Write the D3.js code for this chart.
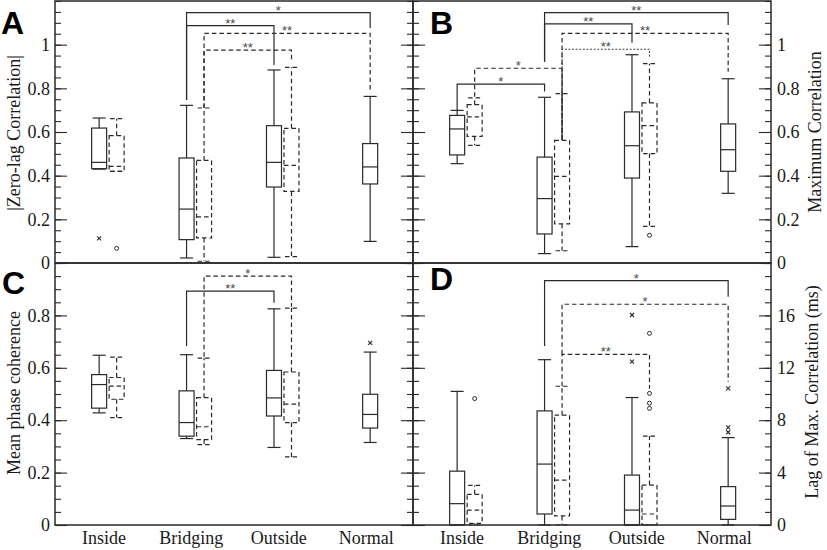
<!DOCTYPE html>
<html><head><meta charset="utf-8">
<script src="https://cdn.jsdelivr.net/npm/d3@7"></script>
<style>
html,body{margin:0;padding:0;background:#fff;}
svg{display:block;}
text{font-family:"Liberation Serif","Times New Roman",serif;}
</style></head>
<body>
<svg id="chart" width="827" height="550"></svg>
<script>
// ---------------- DATA ----------------
const categories = ["Inside", "Bridging", "Outside", "Normal"];
// box stats per category: [lowWhisker, q1, median, q3, highWhisker]; null = no box
const zeroLagSolid  = [[0.43,0.432,0.461,0.618,0.664],[0.023,0.107,0.247,0.481,0.722],[0.026,0.348,0.461,0.629,0.884],[0.099,0.362,0.44,0.547,0.763]];
const zeroLagDashed = [[0.42,0.42,0.443,0.583,0.661],[0.008,0.115,0.211,0.47,0.71],[0.029,0.328,0.447,0.617,0.896],null];
const maxCorrSolid  = [[0.455,0.495,0.614,0.676,0.699],[0.043,0.133,0.295,0.485,0.759],[0.075,0.389,0.537,0.692,0.954],[0.319,0.42,0.519,0.637,0.844]];
const maxCorrDashed = [[0.539,0.58,0.669,0.725,0.756],[0.056,0.179,0.397,0.562,0.776],[0.168,0.501,0.629,0.733,0.913],null];
const coherenceSolid  = [[0.428,0.446,0.536,0.574,0.648],[0.33,0.339,0.391,0.512,0.65],[0.296,0.416,0.485,0.59,0.825],[0.315,0.37,0.422,0.499,0.66]];
const coherenceDashed = [[0.41,0.48,0.53,0.563,0.641],[0.307,0.326,0.375,0.486,0.637],[0.26,0.391,0.461,0.584,0.828],null];
const lagSolid  = [[0,0,1.63,4.11,10.2],[0,0.84,4.65,8.71,12.62],[0,0,1.14,3.81,9.73],[0,0.43,1.45,2.93,6.67]];
const lagDashed = [[0,0.13,1.14,2.34,3.02],[0,0.69,3.43,8.38,10.59],[0,0,0.84,3.05,6.79],null];

// outliers: [categoryIndex, seriesIndex (0 solid, 1 dashed), value]
const zeroLagOutliers   = [[0,0,0.113],[0,1,0.067]];
const maxCorrOutliers   = [[2,1,0.127]];
const coherenceOutliers = [[3,0,0.695]];
const lagOutliers = [[0,1,9.65],[2,0,16.03],[2,0,12.47],[2,1,14.63],[2,1,10.05],[2,1,9.3],[2,1,8.9],[3,0,10.43],[3,0,7.46],[3,0,7.08]];

// significance brackets: [catA, serA, catB, serB, level, legEndA, legEndB, label, style]
const zeroLagBrackets = [
  [1,0,3,0,1.147,0.747,1.076,"*","solid"],
  [1,0,2,0,1.087,0.747,0.907,"**","solid"],
  [1,1,3,0,1.052,0.71,0.79,"**","dashed"],
  [1,1,2,1,0.975,0.71,0.93,"**","dashed"]
];
const maxCorrBrackets = [
  [1,0,3,0,1.147,0.922,1.09,"**","solid"],
  [1,0,2,0,1.095,0.922,1.009,"**","solid"],
  [1,1,3,0,1.052,0.563,0.876,"**","dashed"],
  [1,1,2,1,0.979,0.563,0.945,"**","dotted"],
  [0,1,1,1,0.892,0.762,0.563,"*","dashed"],
  [0,0,1,0,0.819,0.70,0.785,"*","solid"]
];
const coherenceBrackets = [
  [1,0,2,0,0.893,0.683,0.848,"**","solid"],
  [1,1,2,1,0.95,0.642,0.833,"*","dashed"]
];
const lagBrackets = [
  [1,0,3,0,18.65,13.66,17.43,"*","solid"],
  [1,1,3,0,16.85,13.03,10.94,"*","dashed"],
  [1,1,2,1,13.03,10.6,10.4,"**","dashed"]
];

const corrTicks = [0,0.2,0.4,0.6,0.8,1];
const corrTickLabels = ["0","0.2","0.4","0.6","0.8","1"];
const cohTicks = [0,0.2,0.4,0.6,0.8];
const cohTickLabels = ["0","0.2","0.4","0.6","0.8"];
const lagTicks = [0,4,8,12,16];
const lagTickLabels = ["0","4","8","12","16"];

// ---------------- LAYOUT ----------------
const svg = d3.select("#chart");
const ink = "#2a2a2a";
const panels = [
  {letter:"A", x0:55, x1:413, y0:1, y1:263, domain:[0,1.2], minorStep:0.05,
   solid:zeroLagSolid, dashed:zeroLagDashed, outliers:zeroLagOutliers, brackets:zeroLagBrackets,
   ticks:corrTicks, tickLabels:corrTickLabels, side:"left", title:"|Zero-lag Correlation|", titleX:20, titleY:133,
   letterX:1, letterY:34, xLabels:false},
  {letter:"B", x0:413, x1:771, y0:1, y1:263, domain:[0,1.2], minorStep:0.05,
   solid:maxCorrSolid, dashed:maxCorrDashed, outliers:maxCorrOutliers, brackets:maxCorrBrackets,
   ticks:corrTicks, tickLabels:corrTickLabels, side:"right", title:"Maximum Correlation", titleX:821, titleY:132,
   letterX:430, letterY:34, xLabels:false},
  {letter:"C", x0:55, x1:413, y0:263, y1:525, domain:[0,1], minorStep:0.05,
   solid:coherenceSolid, dashed:coherenceDashed, outliers:coherenceOutliers, brackets:coherenceBrackets,
   ticks:cohTicks, tickLabels:cohTickLabels, side:"left", title:"Mean phase coherence", titleX:20, titleY:393,
   letterX:2, letterY:294, xLabels:true},
  {letter:"D", x0:413, x1:771, y0:263, y1:525, domain:[0,20], minorStep:1,
   solid:lagSolid, dashed:lagDashed, outliers:lagOutliers, brackets:lagBrackets,
   ticks:lagTicks, tickLabels:lagTickLabels, side:"right", title:"Lag of Max. Correlation (ms)", titleX:818, titleY:392,
   letterX:430, letterY:290, xLabels:true}
];

const boxW = 15, capW = 13, seriesOff = 8.75;
const dashFor = s => s === "dashed" ? "4.5,3" : (s === "dotted" ? "2,1.6" : null);

panels.forEach(p => {
  const g = svg.append("g");
  const x = d3.scaleLinear().domain([0.395, 4.49]).range([p.x0, p.x1]);
  const y = d3.scaleLinear().domain(p.domain).range([p.y1, p.y0]);
  const minor = d3.range(p.domain[0], p.domain[1] + 1e-9, p.minorStep);

  const styleAxis = sel => { sel.select(".domain").remove(); sel.selectAll("line").attr("stroke", ink).attr("stroke-width", 1.1); };

  // left side ticks (pointing inward)
  const leftMajor = d3.axisLeft(y).tickValues(p.ticks).tickSizeInner(-12).tickSizeOuter(0).tickPadding(5)
      .tickFormat((d,i) => p.side === "left" ? p.tickLabels[i] : "");
  g.append("g").attr("transform", `translate(${p.x0},0)`).call(leftMajor).call(styleAxis)
    .selectAll("text").attr("font-size", 18).attr("fill", "#1a1a1a").style("font-family", "Liberation Serif");
  g.append("g").attr("transform", `translate(${p.x0},0)`)
    .call(d3.axisLeft(y).tickValues(minor).tickSizeInner(-6).tickSizeOuter(0).tickFormat("")).call(styleAxis);
  // right side ticks
  const rightMajor = d3.axisRight(y).tickValues(p.ticks).tickSizeInner(-12).tickSizeOuter(0).tickPadding(6)
      .tickFormat((d,i) => p.side === "right" ? p.tickLabels[i] : "");
  g.append("g").attr("transform", `translate(${p.x1},0)`).call(rightMajor).call(styleAxis)
    .selectAll("text").attr("font-size", 18).attr("fill", "#1a1a1a").style("font-family", "Liberation Serif");
  g.append("g").attr("transform", `translate(${p.x1},0)`)
    .call(d3.axisRight(y).tickValues(minor).tickSizeInner(-6).tickSizeOuter(0).tickFormat("")).call(styleAxis);

  // frame
  g.append("rect").attr("x", p.x0).attr("y", p.y0).attr("width", p.x1 - p.x0).attr("height", p.y1 - p.y0)
    .attr("fill", "none").attr("stroke", ink).attr("stroke-width", 1.5);

  // series x position
  const sx = (ci, si) => {
    const hasDashed = p.dashed[ci] !== null;
    if (!hasDashed) return x(ci + 1);
    return x(ci + 1) + (si === 0 ? -seriesOff : seriesOff);
  };

  // boxes
  [p.solid, p.dashed].forEach((arr, si) => {
    arr.forEach((st, ci) => {
      if (!st) return;
      const cx = sx(ci, si);
      const [lo, q1, md, q3, hi] = st;
      const bg = g.append("g").attr("stroke", ink).attr("stroke-width", 1.2).attr("fill", "none")
        .attr("stroke-dasharray", si === 1 ? "4.5,3" : null);
      bg.append("line").attr("x1", cx).attr("x2", cx).attr("y1", y(q3)).attr("y2", y(hi));
      bg.append("line").attr("x1", cx).attr("x2", cx).attr("y1", y(q1)).attr("y2", y(lo));
      bg.append("line").attr("x1", cx - capW/2).attr("x2", cx + capW/2).attr("y1", y(hi)).attr("y2", y(hi)).attr("stroke-dasharray", null);
      bg.append("line").attr("x1", cx - capW/2).attr("x2", cx + capW/2).attr("y1", y(lo)).attr("y2", y(lo)).attr("stroke-dasharray", null);
      bg.append("rect").attr("x", cx - boxW/2).attr("y", y(q3)).attr("width", boxW).attr("height", y(q1) - y(q3));
      bg.append("line").attr("x1", cx - boxW/2).attr("x2", cx + boxW/2).attr("y1", y(md)).attr("y2", y(md));
    });
  });

  // outliers
  p.outliers.forEach(([ci, si, v]) => {
    const cx = sx(ci, si), cy = y(v);
    if (si === 0) {
      g.append("path").attr("d", `M${cx-2},${cy-2}L${cx+2},${cy+2}M${cx-2},${cy+2}L${cx+2},${cy-2}`)
        .attr("stroke", ink).attr("stroke-width", 1.1).attr("fill", "none");
    } else {
      g.append("circle").attr("cx", cx).attr("cy", cy).attr("r", 2).attr("fill", "none")
        .attr("stroke", ink).attr("stroke-width", 1);
    }
  });

  // significance brackets
  p.brackets.forEach(([ca, sa, cb, sb, lev, ea, eb, lab, style]) => {
    const xa = sx(ca, sa), xb = sx(cb, sb), yl = y(lev);
    g.append("path").attr("d", `M${xa},${y(ea)}L${xa},${yl}L${xb},${yl}L${xb},${y(eb)}`)
      .attr("fill", "none").attr("stroke", ink).attr("stroke-width", style === "dotted" ? 0.9 : 1.2)
      .attr("stroke-dasharray", dashFor(style));
    g.append("text").attr("x", (xa + xb) / 2).attr("y", yl + 2).attr("text-anchor", "middle")
      .attr("font-size", 13).style("font-family", "Liberation Sans, Arial, sans-serif").attr("fill", "#4a4a4a").text(lab);
  });

  // category labels
  if (p.xLabels) {
    categories.forEach((c, ci) => {
      g.append("text").attr("x", x(ci + 1) - 4).attr("y", 544).attr("text-anchor", "middle")
        .attr("font-size", 18).attr("fill", "#1a1a1a").text(c);
    });
  }

  // axis title
  g.append("text").attr("transform", `translate(${p.titleX},${p.titleY}) rotate(-90)`).attr("text-anchor", "middle")
    .attr("font-size", 18).attr("fill", "#1a1a1a").text(p.title);

  // panel letter
  g.append("text").attr("x", p.letterX).attr("y", p.letterY).attr("font-size", 32).attr("font-weight", "bold")
    .style("font-family", "Liberation Sans, Arial, sans-serif").attr("fill", "#000").text(p.letter);
});
</script>
</body></html>
